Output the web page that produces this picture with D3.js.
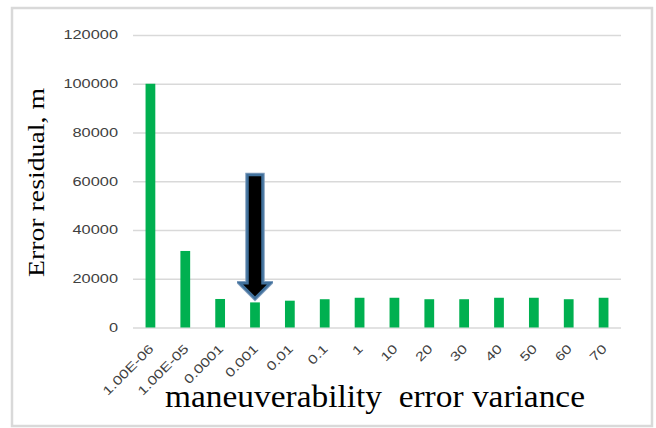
<!DOCTYPE html>
<html><head><meta charset="utf-8">
<script src="https://cdn.jsdelivr.net/npm/d3@7"></script>
<style>body{margin:0;background:#fff}svg{display:block}</style>
</head><body>
<script>
const categories = ["1.00E-06","1.00E-05","0.0001","0.001","0.01","0.1","1","10","20","30","40","50","60","70"];
const values = [100000,31400,11700,10300,11000,11600,12200,12200,11600,11600,12200,12200,11600,12200];
const yTicks = [0,20000,40000,60000,80000,100000,120000];
const arrowCategory = "0.001";
const arrowFrom = 62600, arrowTo = 12000;

(function(){
const W = 656, H = 428;
const svg = d3.select("body").append("svg").attr("width", W).attr("height", H);

svg.append("rect").attr("x",12).attr("y",8).attr("width",640).attr("height",418)
  .attr("fill","#fff").attr("stroke","#d9d9d9").attr("stroke-width",2.5);

const mLeft = 133, mRight = 621, mTop = 35, mBottom = 327.5;
const x = d3.scaleBand().domain(categories).range([mLeft,mRight]).paddingInner(0.72).paddingOuter(0.36);
const y = d3.scaleLinear().domain([0,120000]).range([mBottom,mTop]);

const yAxis = d3.axisLeft(y).tickValues(yTicks).tickSize(-(mRight-mLeft)).tickFormat(d3.format("d")).tickPadding(15);
const gy = svg.append("g").attr("transform",`translate(${mLeft},0)`).call(yAxis);
gy.select(".domain").remove();
gy.selectAll(".tick line").attr("stroke","#d9d9d9").attr("stroke-width",1.6);
gy.selectAll(".tick text").attr("fill","#404040")
  .style("font-family","Liberation Sans, Arial, sans-serif").style("font-size","12px")
  .attr("textLength", function(){ return this.textContent.length * 9.1; })
  .attr("lengthAdjust","spacingAndGlyphs");

svg.append("g").selectAll("rect").data(categories).join("rect")
  .attr("x", d => x(d)).attr("width", x.bandwidth())
  .attr("y", (d,i) => y(values[i])).attr("height", (d,i) => y(0) - y(values[i]))
  .attr("fill","#00b050");

const xAxis = d3.axisBottom(x).tickSize(0).tickPadding(0);
const gx = svg.append("g").attr("transform",`translate(0,${mBottom})`).call(xAxis);
gx.select(".domain").remove();
gx.selectAll(".tick text")
  .attr("fill","#404040").style("font-family","Liberation Sans, Arial, sans-serif").style("font-size","12.5px")
  .attr("text-anchor","end").attr("dy",null).attr("y",0)
  .attr("transform","translate(4,22) rotate(-45)")
  .each(function(){
    const w = this.getComputedTextLength();
    d3.select(this).attr("textLength", w*1.3).attr("lengthAdjust","spacingAndGlyphs");
  });

const ax = x(arrowCategory) + x.bandwidth()/2;
const ay0 = y(arrowFrom), ay1 = y(arrowTo);
const sw = 7.5, hw = 15, hh = 15;
const p = d3.path();
p.moveTo(ax - sw, ay0);
p.lineTo(ax + sw, ay0);
p.lineTo(ax + sw, ay1 - hh);
p.lineTo(ax + hw, ay1 - hh);
p.lineTo(ax, ay1);
p.lineTo(ax - hw, ay1 - hh);
p.lineTo(ax - sw, ay1 - hh);
p.closePath();
const defs = svg.append("defs");
defs.append("filter").attr("id","soft").append("feGaussianBlur").attr("stdDeviation",0.6);
svg.append("path").attr("d", p.toString())
  .attr("fill","none").attr("stroke","#7f9dbd").attr("stroke-width",4.5).attr("filter","url(#soft)");
svg.append("path").attr("d", p.toString())
  .attr("fill","#000").attr("stroke","#41719c").attr("stroke-width",2.5).attr("stroke-linejoin","miter");

svg.append("text").attr("transform",`translate(44,182.5) rotate(-90)`)
  .attr("text-anchor","middle").style("font-family","Liberation Serif, Times New Roman, serif")
  .style("font-size","24px").attr("fill","#000")
  .attr("textLength",189).attr("lengthAdjust","spacingAndGlyphs")
  .text("Error residual, m");
svg.append("text").attr("x",375).attr("y",407)
  .attr("text-anchor","middle").style("font-family","Liberation Serif, Times New Roman, serif")
  .style("font-size","31px").attr("fill","#000").style("white-space","pre")
  .attr("textLength",420).attr("lengthAdjust","spacingAndGlyphs")
  .text("maneuverability  error variance");
})();
</script>
</body></html>
